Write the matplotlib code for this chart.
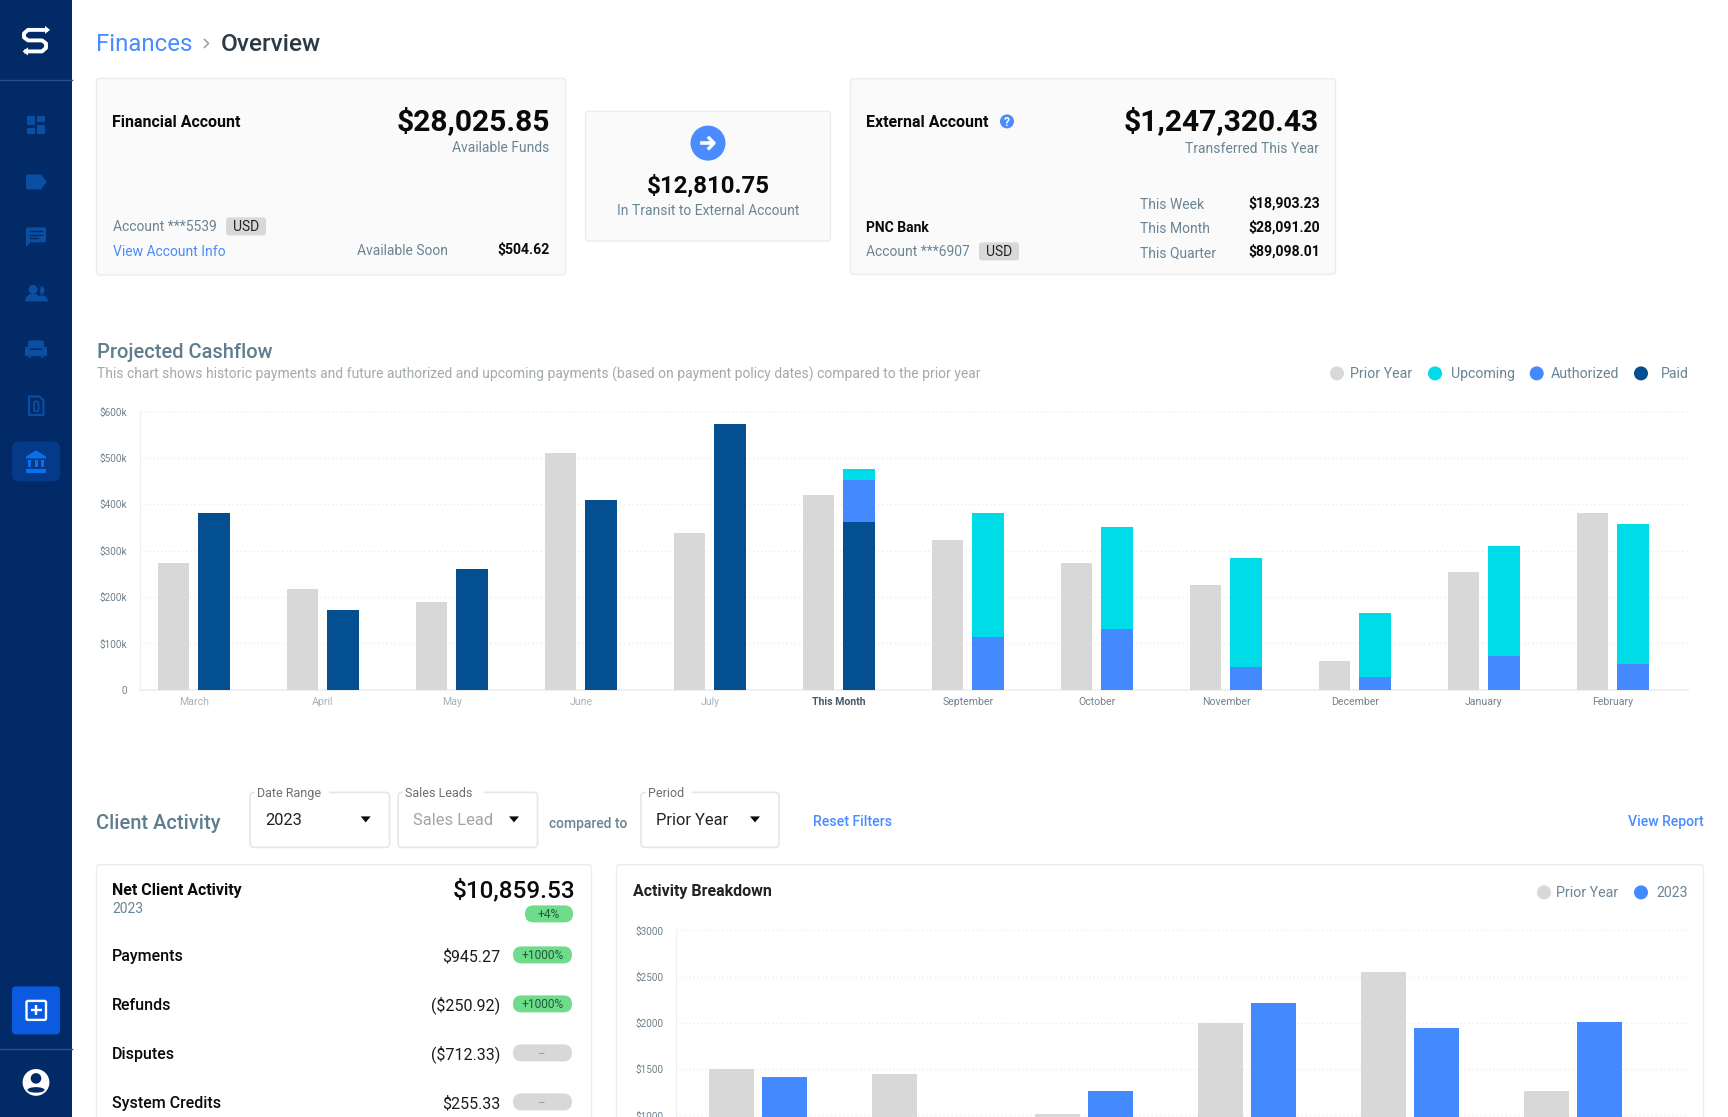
import matplotlib
matplotlib.use("Agg")
import matplotlib.pyplot as plt
from matplotlib.patches import FancyBboxPatch, Circle, Rectangle, Polygon, Wedge, Ellipse

plt.rcParams["font.family"] = ["Roboto", "DejaVu Sans"]

# --- Chart data ---
months = ["March", "April", "May", "June", "July", "This Month", "September",
          "October", "November", "December", "January", "February"]
prior_year = [274, 218, 190, 511, 339, 419, 322, 274, 227, 63, 253, 382]
paid = [382, 173, 261, 410, 572, 361, 0, 0, 0, 0, 0, 0]
authorized = [0, 0, 0, 0, 0, 92, 113, 132, 50, 27, 74, 55]
upcoming = [0, 0, 0, 0, 0, 22, 269, 218, 235, 138, 237, 303]
cash_ticks = [0, 100, 200, 300, 400, 500, 600]
cash_labels = ["0", "$100k", "$200k", "$300k", "$400k", "$500k", "$600k"]

breakdown_prior = [1505, 1450, 1010, 1995, 2545, 1260]
breakdown_2023 = [1410, 950, 1260, 2210, 1950, 2005]
breakdown_ticks = [1000, 1500, 2000, 2500, 3000]
breakdown_labels = ["$1000", "$1500", "$2000", "$2500", "$3000"]

# --- Colours ---
NAVY = "#012a66"
ICON = "#0b4fa3"
GREY_BAR = "#d8d8d8"
CYAN = "#00dbe8"
BLUE = "#4589ff"
DARK = "#034f8f"
SLATE = "#6b8494"
LINK = "#4a8bff"
BLACK = "#0a0a0a"
GREEN = "#6fdc8c"
HEADING = "#5f7d8e"

BODY = 13.9   # body text size in px
LABEL = 16.0  # card label size in px

W, H = 1728, 1117
DY = 0.4  # the whole page sits a little lower than the round numbers
fig = plt.figure(figsize=(W / 100, H / 100), dpi=100, facecolor="white")
ui = fig.add_axes([0, 0, 1, 1])
ui.set_xlim(0, W)
ui.set_ylim(H - DY, -DY)
ui.axis("off")


def text(x, y, s, px=BODY, color=BLACK, weight="normal", ha="left"):
    ui.text(x, y, s, fontsize=px * 0.72, color=color, fontweight=weight, ha=ha, va="baseline")


def box(x0, y0, x1, y1, r=3, fc="#fafafa", ec="#ececec", lw=1.0, z=1):
    ui.add_patch(FancyBboxPatch((x0, y0), x1 - x0, y1 - y0, boxstyle=f"round,pad=0,rounding_size={r}",
                                fc=fc, ec=ec, lw=lw, zorder=z))


def rect(x0, y0, x1, y1, color=ICON, z=3):
    ui.add_patch(Rectangle((x0, y0), x1 - x0, y1 - y0, fc=color, ec="none", zorder=z))


def dot(x, y, color, r=7):
    ui.add_patch(Circle((x, y), r, fc=color, ec="none", zorder=3))


def pill(x0, y0, x1, y1, color, s, base, px=12):
    box(x0, y0, x1, y1, r=(y1 - y0) / 2, fc=color, ec="none", z=2)
    text((x0 + x1) / 2, base, s, px=px, color="#1f5c34" if color == GREEN else "#9a9a9a", ha="center")


def dropdown(x0, x1, label, value, value_color, caret_x):
    box(x0, 792, x1, 847, r=4, fc="white", ec="#e6e6e6", lw=1.2)
    lw = 7.0 * len(label)
    rect(x0 + 5, 789, x0 + 9 + lw, 795, color="white")
    text(x0 + 7, 797, label, px=12.5, color="#6e6e6e")
    text(x0 + 15, 825, value, px=16.5, color=value_color)
    ui.add_patch(Polygon([(caret_x - 5, 816), (caret_x + 5, 816), (caret_x, 822)], fc=BLACK, ec="none", zorder=3))


# --- Sidebar ---
rect(0, -2, 72, H + 2, color=NAVY, z=0)
ui.plot([0, 72], [79.5, 79.5], color="#2c4f85", lw=1, zorder=1)
ui.plot([0, 72], [1049, 1049], color="#2c4f85", lw=1, zorder=1)

# logo
ui.plot([46, 28, 24, 24, 28, 42, 46, 46, 42, 26], [29.5, 29.5, 33, 37, 40, 40, 43, 47.5, 51, 51],
        color="white", lw=2.8, solid_joinstyle="round", zorder=3)
ui.add_patch(Polygon([(45, 25.5), (50, 29.5), (45, 33.5)], fc="white", ec="none", zorder=3))
ui.add_patch(Polygon([(28, 47), (22.5, 51), (28, 55)], fc="white", ec="none", zorder=3))

# dashboard icon
rect(27, 116, 35, 125)
rect(27, 128, 35, 134)
rect(37, 116, 45, 122)
rect(37, 125, 45, 134)
# label icon
ui.add_patch(Polygon([(27, 174), (41, 174), (47, 181.5), (41, 189), (27, 189), (26, 187), (26, 176)], fc=ICON, ec="none", zorder=3))
# chat icon
box(26, 227, 46, 242, r=1.5, fc=ICON, ec="none", z=3)
ui.add_patch(Polygon([(26, 240), (26, 247), (31, 241)], fc=ICON, ec="none", zorder=3))
for yy, xe in [(231, 42), (234.5, 42), (238, 38)]:
    ui.plot([30, xe], [yy, yy], color=NAVY, lw=1, zorder=4)
# people icon
dot(33, 289, ICON, r=4.5)
ui.add_patch(Wedge((33, 301), 8, 180, 360, fc=ICON, ec="none", zorder=3))
ui.add_patch(Wedge((40, 290), 4.5, -80, 80, fc=ICON, ec="none", zorder=3))
ui.add_patch(Wedge((42, 301), 6, 180, 360, fc=ICON, ec="none", zorder=3))
# sofa icon
box(28, 340, 44, 348, r=2, fc=ICON, ec="none", z=3)
box(25, 346, 30, 356, r=2, fc=ICON, ec="none", z=3)
box(42, 346, 47, 356, r=2, fc=ICON, ec="none", z=3)
rect(29, 350, 43, 356)
rect(29, 356, 31, 358)
rect(41, 356, 43, 358)
# attachment icon
ui.add_patch(Polygon([(29, 396), (39, 396), (43.5, 400), (43.5, 414.5), (29, 414.5)], fc="none", ec=ICON, lw=1.5, zorder=3))
box(34, 401, 38.5, 411, r=2, fc="none", ec=ICON, lw=1.3, z=3)
# bank icon
box(12, 441, 60, 481, r=7, fc="#053a88", ec="none", z=2)
BANK = "#0a6fef"
ui.add_patch(Polygon([(36, 450), (46, 456), (46, 458), (26, 458), (26, 456)], fc=BANK, ec="none", zorder=3))
for xx in (28, 34.5, 41):
    rect(xx, 460, xx + 3, 467, color=BANK)
rect(26, 469, 46, 472.5, color=BANK)

# new button
box(12, 986, 60, 1034, r=4, fc="#0a5be0", ec="none", z=2)
box(26.5, 1000.5, 46, 1019.5, r=1.5, fc="none", ec="white", lw=1.7, z=3)
ui.plot([36.2, 36.2], [1005, 1015], color="white", lw=1.7, solid_capstyle="butt", zorder=3)
ui.plot([31, 41.5], [1010, 1010], color="white", lw=1.7, solid_capstyle="butt", zorder=3)

# user icon
dot(36, 1082, "white", r=13.4)
dot(36, 1078, NAVY, r=5.3)
ui.add_patch(Ellipse((36, 1089.5), 17, 5.5, fc=NAVY, ec="none", zorder=4))

# --- Header ---
text(96, 51, "Finances", px=24, color=LINK)
ui.plot([204.5, 208.5, 204.5], [39, 43, 47], color="#9aa5ab", lw=1.2, zorder=3)
text(221, 51, "Overview", px=24.4, color="#2b3a45", weight="medium")

# --- Account cards ---
box(96.5, 78, 565.5, 274.5)
text(112, 127, "Financial Account", px=LABEL, weight="bold")
text(550, 130, "$28,025.85", px=30, weight="bold", ha="right")
text(549.5, 152, "Available Funds", color=SLATE, ha="right")
text(113, 230.7, "Account ***5539", color=SLATE)
box(226, 217, 266, 235, fc="#d8d8d8", ec="none", z=2)
text(246, 231, "USD", ha="center", color="#222222")
text(113, 255.3, "View Account Info", color=LINK)
text(356.7, 254.3, "Available Soon", color=SLATE)
text(550, 254, "$504.62", px=14, weight="bold", ha="right")

box(585.5, 111, 830.5, 240.5)
dot(708, 142.7, LINK, r=17.5)
ui.plot([702, 713], [142.7, 142.7], color="white", lw=2.6, zorder=4)
ui.plot([709, 714, 709], [137.5, 142.7, 147.9], color="white", lw=2.4, zorder=4)
text(708, 192, "$12,810.75", px=24, weight="bold", ha="center")
text(708, 215, "In Transit to External Account", color=SLATE, ha="center")

box(850.5, 78.3, 1335.5, 274)
text(866, 127, "External Account", px=LABEL, weight="bold")
dot(1007, 121, LINK, r=7)
text(1007, 125.5, "?", px=12, color="white", weight="bold", ha="center")
text(1319, 130, "$1,247,320.43", px=30, weight="bold", ha="right")
text(1318.7, 153, "Transferred This Year", color=SLATE, ha="right")
text(1140, 209, "This Week", color=SLATE)
text(1140, 233, "This Month", color=SLATE)
text(1140, 256.7, "This Quarter", color=SLATE)
text(1320, 207, "$18,903.23", px=14, weight="bold", ha="right")
text(1320, 231, "$28,091.20", px=14, weight="bold", ha="right")
text(1320, 255, "$89,098.01", px=14, weight="bold", ha="right")
text(866, 232, "PNC Bank", weight="bold")
text(866, 256, "Account ***6907", color=SLATE)
box(979, 242, 1019, 260, fc="#d8d8d8", ec="none", z=2)
text(999, 256, "USD", ha="center", color="#222222")

# --- Projected Cashflow header ---
text(97, 358, "Projected Cashflow", px=20, color=HEADING, weight="medium")
text(97, 378, "This chart shows historic payments and future authorized and upcoming payments "
     "(based on payment policy dates) compared to the prior year", px=13.9, color="#a3a9ad")
for mx, tx, label, col in [(1337, 1350, "Prior Year", GREY_BAR), (1435, 1451, "Upcoming", CYAN),
                           (1536.7, 1551, "Authorized", BLUE), (1641, 1661, "Paid", DARK)]:
    dot(mx, 373, col)
    text(tx, 378, label, px=14.1, color=SLATE)

# --- Cashflow chart ---
ax = fig.add_axes([140 / W, 1 - (689.5 + DY) / H, (1688 - 140) / W, (689.5 - 411) / H], facecolor="none")
x_pos = list(range(len(months)))
bw = 31.8 / 129
off_left = 20.5 / 129
off_right = 20.2 / 129
ax.bar([x - off_left for x in x_pos], prior_year, bw, color=GREY_BAR, zorder=3)
ax.bar([x + off_right for x in x_pos], paid, bw, color=DARK, zorder=3)
ax.bar([x + off_right for x in x_pos], authorized, bw, bottom=paid, color=BLUE, zorder=3)
tops = [p + a for p, a in zip(paid, authorized)]
ax.bar([x + off_right for x in x_pos], upcoming, bw, bottom=tops, color=CYAN, zorder=3)
ax.set_xlim((140 - 194) / 129, (1688 - 194) / 129)
ax.set_ylim(0, 600)
ax.set_yticks(cash_ticks, cash_labels)
ax.set_xticks(x_pos, months)
ax.tick_params(length=0)
ax.tick_params(axis="y", labelsize=7.2, labelcolor="#71818c", pad=9)
ax.tick_params(axis="x", labelsize=7.6, pad=5)
for i, lab in enumerate(ax.get_xticklabels()):
    if months[i] == "This Month":
        lab.set_color("#46596a")
        lab.set_fontweight("bold")
    elif i < 5:
        lab.set_color("#a5b2ba")
    else:
        lab.set_color("#73838e")
ax.grid(axis="y", color="#ececec", linestyle=(0, (1, 2)), lw=1, zorder=0)
ax.set_axisbelow(True)
for s in ("top", "right"):
    ax.spines[s].set_visible(False)
ax.spines["left"].set_color("#f0f0f0")
ax.spines["bottom"].set_color("#f0f0f0")
ax.spines["bottom"].set_linewidth(1.6)

# --- Client Activity row ---
text(96.3, 829, "Client Activity", px=20, color=HEADING, weight="medium")
dropdown(250, 389.5, "Date Range", "2023", "#222222", 365.7)
dropdown(398, 537.5, "Sales Leads", "Sales Lead", "#a3a3a3", 514)
text(549, 828, "compared to", color=SLATE, weight="medium")
dropdown(641, 779, "Period", "Prior Year", "#222222", 755)
text(813, 826, "Reset Filters", px=14.1, color=LINK, weight="medium")
text(1704, 826, "View Report", px=14, color=LINK, weight="medium", ha="right")

# --- Net Client Activity card ---
box(96.5, 864.3, 591.5, H + 20, fc="white")
text(112, 895, "Net Client Activity", px=LABEL, weight="bold")
text(112, 913, "2023", px=BODY, color=SLATE)
text(575, 897, "$10,859.53", px=24.2, weight="medium", ha="right")
pill(525, 905, 573, 922, GREEN, "+4%", 917.5)
rows = [("Payments", "$945.27", "+1000%", GREEN, 961, 946),
        ("Refunds", "($250.92)", "+1000%", GREEN, 1010, 995),
        ("Disputes", "($712.33)", "--", GREY_BAR, 1059, 1044),
        ("System Credits", "$255.33", "--", GREY_BAR, 1108, 1093)]
for name, val, tag, col, base, top in rows:
    text(112, base, name, weight="medium", px=LABEL)
    text(500.4, base, val, px=LABEL, ha="right", color="#1b1b1b")
    pill(513, top, 572, top + 17, col, tag, top + 13)

# --- Activity Breakdown card ---
box(616.5, 864.3, 1703.5, H + 20, fc="white")
text(633, 896, "Activity Breakdown", px=LABEL, weight="bold", color="#222222")
dot(1544, 892, GREY_BAR)
text(1556, 897, "Prior Year", px=14.1, color=SLATE)
dot(1641, 892, BLUE)
text(1656, 897, "2023", px=14.1, color=SLATE)

ax2 = fig.add_axes([676 / W, 0, (1688 - 676) / W, (H - 930 - DY) / H], facecolor="none")
x2 = list(range(len(breakdown_prior)))
bw2 = 45 / 163
off2 = 26.5 / 163
ax2.bar([x - off2 for x in x2], breakdown_prior, bw2, color=GREY_BAR, zorder=3)
ax2.bar([x + off2 for x in x2], breakdown_2023, bw2, color=BLUE, zorder=3)
ax2.set_xlim((676 - 758) / 163, (1688 - 758) / 163)
ax2.set_ylim(1000 - (H - 1115 - DY) / 46.3 * 500, 3000)
ax2.set_yticks(breakdown_ticks, breakdown_labels)
ax2.set_xticks([])
ax2.tick_params(length=0)
ax2.tick_params(axis="y", labelsize=7.2, labelcolor="#71818c", pad=9)
ax2.grid(axis="y", color="#ececec", linestyle=(0, (1, 2)), lw=1, zorder=0)
ax2.set_axisbelow(True)
for s in ("top", "right", "bottom"):
    ax2.spines[s].set_visible(False)
ax2.spines["left"].set_color("#f0f0f0")

fig.savefig("out.png", dpi=100)
